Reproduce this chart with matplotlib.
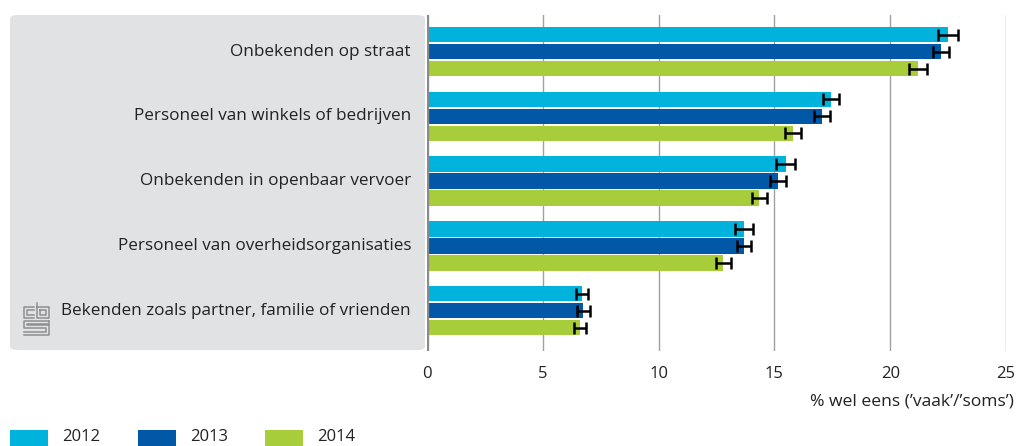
import numpy as np
import matplotlib
matplotlib.use("Agg")
import matplotlib.pyplot as plt
from matplotlib.patches import FancyBboxPatch, Rectangle
from matplotlib.lines import Line2D

categories = ["Onbekenden op straat",
              "Personeel van winkels of bedrijven",
              "Onbekenden in openbaar vervoer",
              "Personeel van overheidsorganisaties",
              "Bekenden zoals partner, familie of vrienden"]
years = ["2012", "2013", "2014"]
v2012 = [22.5, 17.45, 15.5, 13.7, 6.7]
v2013 = [22.2, 17.05, 15.15, 13.7, 6.75]
v2014 = [21.2, 15.8, 14.35, 12.8, 6.6]
e2012 = [0.43, 0.36, 0.41, 0.39, 0.26]
e2013 = [0.35, 0.33, 0.33, 0.30, 0.27]
e2014 = [0.39, 0.34, 0.33, 0.33, 0.26]
colors = ["#00b3dd", "#0058a6", "#a8cd3a"]
xticks = [0, 5, 10, 15, 20, 25]
xlabel = "% wel eens (\u2019vaak\u2019/\u2019soms\u2019)"

plt.rcParams["font.family"] = ["Open Sans", "DejaVu Sans"]
W, H = 1016, 446
fig = plt.figure(figsize=(W / 100, H / 100), dpi=100)

def fx(px):
    return px / W

def fy(py):
    return 1 - py / H

# grey label panel
panel = FancyBboxPatch((fx(10), fy(350)), fx(425) - fx(10), fy(15) - fy(350),
                       boxstyle="round,pad=0,rounding_size=0.008",
                       transform=fig.transFigure, facecolor="#e1e2e4",
                       edgecolor="none", zorder=0)
fig.patches.append(panel)

ax = fig.add_axes([fx(427), fy(351), fx(1006) - fx(427), fy(15) - fy(351)])
ax.set_facecolor("none")

vals = [v2012, v2013, v2014]
errs = [e2012, e2013, e2014]
y = np.arange(len(categories))
step = 0.2625
bh = 0.239
for k in range(3):
    ax.barh(y + (k - 1) * step, vals[k], height=bh, color=colors[k], zorder=2)
    ax.errorbar(vals[k], y + (k - 1) * step, xerr=errs[k], fmt="none",
                ecolor="black", elinewidth=1.8, capsize=4, capthick=1.8, zorder=3)

ax.set_xlim(0, 25)
ax.set_ylim(4.625, -0.564)
ax.set_xticks(xticks)
ax.set_xticklabels([str(t) for t in xticks], fontsize=12, color="#222222")
ax.set_yticks([])
ax.tick_params(axis="x", length=0, pad=11)
for s in ax.spines.values():
    s.set_visible(False)
for t in xticks[1:]:
    ax.axvline(t, color="#a0a0a0", lw=1, zorder=1)
ax.axvline(0, color="#8a8a8a", lw=2.4, zorder=4)

for i, c in enumerate(categories):
    fig.text(fx(411), ax.transData.transform((0, y[i]))[1] / H, c,
             ha="right", va="center", fontsize=12.3, color="#222222")

fig.text(fx(1014), fy(402), xlabel, ha="right", va="center",
         fontsize=12.6, color="#222222")

# legend
lx = [10, 138, 265]
for k in range(3):
    fig.patches.append(Rectangle((fx(lx[k]), fy(446)), fx(38), fy(430) - fy(446),
                                 transform=fig.transFigure, facecolor=colors[k],
                                 edgecolor="none"))
    fig.text(fx(lx[k] + 52), fy(437), years[k], ha="left", va="center",
             fontsize=12, color="#222222")

# simple cbs logo
lc = "#8f8f8f"
def path(pts):
    xs = [fx(p[0]) for p in pts]
    ys = [fy(p[1]) for p in pts]
    fig.add_artist(Line2D(xs, ys, color=lc, lw=1.1))
# c
path([(34, 307), (24, 307), (24, 318), (34, 318)])
path([(34, 310), (27, 310), (27, 315), (34, 315)])
# b
path([(37, 303), (37, 318), (49, 318), (49, 307), (37, 307)])
path([(40, 310), (46, 310), (46, 315), (40, 315), (40, 310)])
# s
path([(49, 321), (24, 321), (24, 328), (46, 328), (46, 332), (24, 332)])
path([(49, 321), (49, 324), (27, 324), (27, 325), (49, 325), (49, 335), (24, 335)])

fig.savefig("out.png", dpi=100)
